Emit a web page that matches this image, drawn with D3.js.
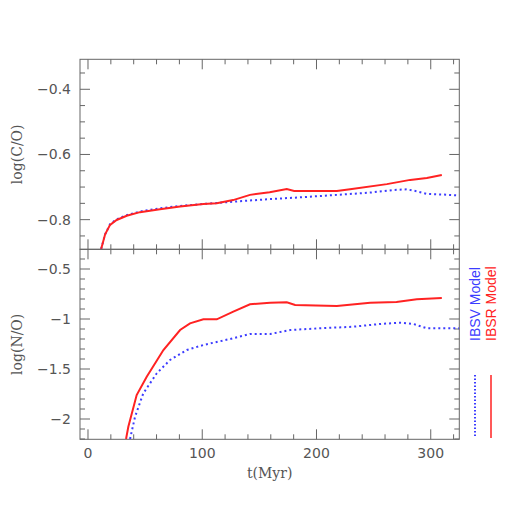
<!DOCTYPE html>
<html>
<head>
<meta charset="utf-8">
<script src="https://cdn.jsdelivr.net/npm/d3@7"></script>
<style>
  body { margin: 0; background: #fff; }
  svg text { fill: #555; }
</style>
</head>
<body>
<div class="chart"></div>
<script>
// data: t in Myr
const coT_ibsr = [11.5, 15, 19.3, 25.1, 33.9, 45.5, 63, 80.6, 101, 112.7, 127, 141.8, 159, 174, 180.4, 217.8, 229.4, 261.6, 282, 296.6, 309.7];
const coY_ibsr = [-0.89, -0.845, -0.816, -0.801, -0.788, -0.777, -0.768, -0.760, -0.752, -0.750, -0.740, -0.724, -0.716, -0.706, -0.712, -0.712, -0.707, -0.691, -0.678, -0.672, -0.663];
const coT_ibsv = [11.5, 15, 19.3, 25.1, 33.9, 45.5, 63, 80.6, 101, 112.7, 127, 159, 188.5, 217.8, 247, 267.3, 279, 287.8, 296.6, 311, 325];
const coY_ibsv = [-0.89, -0.845, -0.814, -0.799, -0.786, -0.775, -0.765, -0.758, -0.752, -0.749, -0.745, -0.737, -0.731, -0.724, -0.717, -0.709, -0.707, -0.713, -0.721, -0.723, -0.726];

const noT_ibsr = [33.3, 35.3, 42.6, 51.4, 66, 80.6, 89.3, 101, 112.7, 127.2, 141.8, 159.4, 174, 181.3, 217.8, 247, 270, 287.8, 309.7];
const noY_ibsr = [-2.2, -2.077, -1.76, -1.577, -1.31, -1.11, -1.043, -1.003, -1.003, -0.927, -0.853, -0.837, -0.833, -0.86, -0.87, -0.837, -0.83, -0.803, -0.79];
const noT_ibsv = [36.8, 41.2, 48.4, 60.2, 71.8, 86.4, 101, 124.3, 141.8, 159.4, 177, 203, 232.3, 255.7, 273.2, 284.9, 296.6, 311, 325];
const noY_ibsv = [-2.2, -1.977, -1.743, -1.543, -1.41, -1.31, -1.26, -1.20, -1.15, -1.15, -1.11, -1.093, -1.077, -1.05, -1.037, -1.05, -1.093, -1.093, -1.093];

const xTicks = [0, 100, 200, 300];
const coTicks = [-0.4, -0.6, -0.8];
const noTicks = [-0.5, -1, -1.5, -2];
const legendNames = ["IBSV Model", "IBSR Model"];

const width = 518, height = 518;
const frameLeft = 80, frameRight = 459.3, frameTop = 59.3, frameMid = 249.3, frameBottom = 439.3;
const red = "#ff2222", blue = "#3c3cff", frame = "#666";

let x = d3.scaleLinear().domain([-7, 325]).range([frameLeft, frameRight]);
let yTop = d3.scaleLinear().domain([-0.891, -0.308]).range([frameMid, frameTop]);
let yBot = d3.scaleLinear().domain([-2.203, -0.303]).range([frameBottom, frameMid]);

let graph = d3.select(".chart").append("svg")
  .attr("width", width)
  .attr("height", height);

let fmt = d => (d < 0 ? "\u2212" : "") + Math.abs(d);

// one panel: frame, ticks on all sides, lines
let panel = (y, yMajor, yMinorStep, ibsr, ibsv, label, showX) => {
  let y0 = y.range()[0], y1 = y.range()[1];
  let clipId = "clip" + Math.round(y0);
  graph.append("clipPath").attr("id", clipId)
    .append("rect").attr("x", frameLeft).attr("y", y1).attr("width", frameRight - frameLeft).attr("height", y0 - y1);

  let g = graph.append("g");
  g.append("rect")
    .attr("x", frameLeft).attr("y", y1)
    .attr("width", frameRight - frameLeft).attr("height", y0 - y1)
    .attr("fill", "none").attr("stroke", frame).attr("stroke-width", 1);

  // x ticks, bottom and top, inward
  let xMinor = d3.range(0, 321, 20);
  xMinor.forEach(t => {
    let len = t % 100 === 0 ? 10 : 5;
    g.append("line").attr("x1", x(t)).attr("x2", x(t)).attr("y1", y0).attr("y2", y0 - len)
      .attr("stroke", frame);
    g.append("line").attr("x1", x(t)).attr("x2", x(t)).attr("y1", y1).attr("y2", y1 + len)
      .attr("stroke", frame);
  });

  // y ticks, left and right
  let [lo, hi] = y.domain();
  let yMinor = d3.range(Math.ceil(lo / yMinorStep) * yMinorStep, hi, yMinorStep);
  yMinor.forEach(v => {
    let major = yMajor.some(m => Math.abs(m - v) < 1e-6);
    let len = major ? 10 : 5;
    g.append("line").attr("x1", frameLeft).attr("x2", frameLeft + len).attr("y1", y(v)).attr("y2", y(v))
      .attr("stroke", frame);
    g.append("line").attr("x1", frameRight).attr("x2", frameRight - len).attr("y1", y(v)).attr("y2", y(v))
      .attr("stroke", frame);
  });

  g.selectAll(".ylab").data(yMajor).enter().append("text")
    .attr("x", 71).attr("y", d => y(d) + 5)
    .attr("text-anchor", "end")
    .style("font-family", "'DejaVu Sans'").style("font-size", "14px")
    .text(fmt);

  g.append("text")
    .attr("transform", `translate(22,${(y0 + y1) / 2}) rotate(-90)`)
    .attr("text-anchor", "middle")
    .style("font-family", "'DejaVu Serif'").style("font-size", "14px")
    .text(label);

  if (showX) {
    g.selectAll(".xlab").data(xTicks).enter().append("text")
      .attr("x", d => x(d)).attr("y", y0 + 19)
      .attr("text-anchor", "middle")
      .style("font-family", "'DejaVu Sans'").style("font-size", "14px")
      .text(d => d);
  }

  let line = d3.line().x(d => x(d[0])).y(d => y(d[1])).curve(d3.curveLinear);
  let lines = g.append("g").attr("clip-path", `url(#${clipId})`);
  lines.append("path").datum(d3.zip(ibsv[0], ibsv[1]))
    .attr("d", line).attr("fill", "none")
    .attr("stroke", blue).attr("stroke-width", 2).attr("stroke-dasharray", "2,3");
  lines.append("path").datum(d3.zip(ibsr[0], ibsr[1]))
    .attr("d", line).attr("fill", "none")
    .attr("stroke", red).attr("stroke-width", 2);
};

panel(yTop, coTicks, 0.05, [coT_ibsr, coY_ibsr], [coT_ibsv, coY_ibsv], "log(C/O)", false);
panel(yBot, noTicks, 0.1, [noT_ibsr, noY_ibsr], [noT_ibsv, noY_ibsv], "log(N/O)", true);

// x axis title
graph.append("text")
  .attr("x", (frameLeft + frameRight) / 2).attr("y", 478)
  .attr("text-anchor", "middle")
  .style("font-family", "'DejaVu Serif'").style("font-size", "14px")
  .text("t(Myr)");

// legend, rotated
let legend = graph.append("g").attr("id", "legend");
let legX = [475, 491];
let legCol = [blue, red];
legendNames.forEach((name, i) => {
  legend.append("line")
    .attr("x1", legX[i]).attr("x2", legX[i]).attr("y1", 375).attr("y2", 438)
    .attr("stroke", legCol[i]).attr("stroke-width", i === 0 ? 2 : 1.5)
    .attr("stroke-dasharray", i === 0 ? "1.5,2" : null);
  legend.append("text")
    .attr("transform", `translate(${legX[i] + 5},341) rotate(-90)`)
    .style("font-family", "'Liberation Sans'").style("font-size", "14px")
    .style("fill", legCol[i])
    .text(name);
});
</script>
</body>
</html>
